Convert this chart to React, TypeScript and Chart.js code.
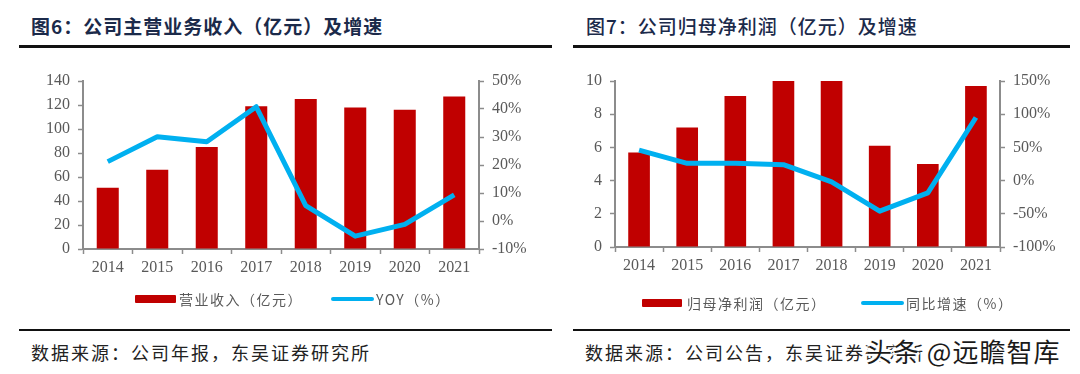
import React, { useEffect, useRef } from "react";
import { Chart, registerables } from "chart.js";

Chart.register(...registerables);

// ---------- data ----------
const years = ["2014", "2015", "2016", "2017", "2018", "2019", "2020", "2021"];
const revenue = [51, 66, 85, 119, 125, 118, 116, 127];
const revenueYoy = [21.2, 30.1, 28.3, 40.8, 5.5, -5.4, -1.2, 9.3];
const netProfit = [5.7, 7.2, 9.1, 11.3, 11.1, 6.1, 5.0, 9.7];
const netProfitYoy = [46, 26, 26, 24, -2, -46, -18.5, 95];

const title1 = "图6：公司主营业务收入（亿元）及增速";
const title2 = "图7：公司归母净利润（亿元）及增速";
const legendBar1 = "营业收入（亿元）";
const legendLine1 = "YOY（%）";
const legendBar2 = "归母净利润（亿元）";
const legendLine2 = "同比增速（%）";
const source1 = "数据来源：公司年报，东吴证券研究所";
const source2 = "数据来源：公司公告，东吴证券研究所";
const watermark = "头条 @远瞻智库";

// ---------- styles ----------
const SERIF = '"Liberation Serif", "Times New Roman", serif';
const CJK = '"Noto Sans CJK SC", "Noto Sans", sans-serif';
const AXIS = "#8c8c8c";
const TICK_TEXT = "#595959";
const BAR = "#C00000";
const LINE = "#00B0F0";

type Spec = {
  values: number[];
  yoy: number[];
  yMax: number;
  yStep: number;
  y1Min: number;
  y1Max: number;
  y1Step: number;
  leftW: number;
  rightW: number;
  topPad: number;
  xH: number;
  barPct: number;
};

function ComboChart(props: { left: number; top: number; width: number; height: number; spec: Spec }) {
  const { left, top, width, height, spec } = props;
  const ref = useRef<HTMLCanvasElement>(null);
  useEffect(() => {
    const tickFont = { family: SERIF, size: 16 };
    const gridCfg = {
      drawOnChartArea: false,
      drawTicks: true,
      tickLength: 5,
      tickColor: AXIS,
      tickWidth: 1.5,
    };
    const chart = new Chart(ref.current as HTMLCanvasElement, {
      type: "bar",
      data: {
        labels: years,
        datasets: [
          {
            type: "line",
            data: spec.yoy,
            yAxisID: "y1",
            borderColor: LINE,
            backgroundColor: LINE,
            borderWidth: 5,
            pointRadius: 0,
            tension: 0,
            borderJoinStyle: "round",
            order: 0,
            clip: 10,
          } as any,
          {
            type: "bar",
            data: spec.values,
            yAxisID: "y",
            backgroundColor: BAR,
            barPercentage: spec.barPct,
            categoryPercentage: 1,
            order: 1,
            clip: 0,
          } as any,
        ],
      },
      options: {
        responsive: false,
        maintainAspectRatio: false,
        animation: false,
        layout: { padding: { top: spec.topPad, left: 0, right: 0, bottom: 0 } },
        plugins: { legend: { display: false }, tooltip: { enabled: false } },
        scales: {
          x: {
            grid: { ...gridCfg, offset: true },
            border: { display: true, color: AXIS, width: 2 },
            ticks: { color: TICK_TEXT, font: tickFont, padding: 4, maxRotation: 0, autoSkip: false },
            afterFit: (s: any) => {
              s.height = spec.xH;
            },
          },
          y: {
            position: "left",
            min: 0,
            max: spec.yMax,
            grid: gridCfg,
            border: { display: true, color: AXIS, width: 2 },
            ticks: { stepSize: spec.yStep, color: TICK_TEXT, font: tickFont, padding: 8 },
            afterFit: (s: any) => {
              s.width = spec.leftW;
            },
          },
          y1: {
            position: "right",
            min: spec.y1Min,
            max: spec.y1Max,
            grid: gridCfg,
            border: { display: true, color: AXIS, width: 2 },
            ticks: {
              stepSize: spec.y1Step,
              color: TICK_TEXT,
              font: tickFont,
              padding: 8,
              callback: (v: any) => `${Math.round(Number(v))}%`,
            },
            afterFit: (s: any) => {
              s.width = spec.rightW;
            },
          },
        },
      } as any,
    });
    return () => chart.destroy();
  }, []);
  return (
    <canvas
      ref={ref}
      width={width}
      height={height}
      style={{ position: "absolute", left, top, width, height }}
    />
  );
}

function Text(props: {
  x: number;
  cy: number;
  size: number;
  color: string;
  text: string;
  weight?: number | string;
  spacing?: number;
  family?: string;
  extra?: React.CSSProperties;
}) {
  const lh = Math.round(props.size * 1.4);
  return (
    <div
      style={{
        position: "absolute",
        left: props.x,
        top: props.cy - lh / 2,
        height: lh,
        lineHeight: `${lh}px`,
        fontSize: props.size,
        fontFamily: props.family || CJK,
        fontWeight: props.weight || 400,
        color: props.color,
        letterSpacing: props.spacing || 0,
        whiteSpace: "nowrap",
        ...(props.extra || {}),
      }}
    >
      {props.text}
    </div>
  );
}

function Rule(props: { x1: number; x2: number; y: number; h: number }) {
  return (
    <div
      style={{
        position: "absolute",
        left: props.x1,
        top: props.y,
        width: props.x2 - props.x1,
        height: props.h,
        background: "#111",
      }}
    />
  );
}

function Box(props: { x: number; cy: number; w: number; h: number; color: string; r?: number }) {
  return (
    <div
      style={{
        position: "absolute",
        left: props.x,
        top: props.cy - props.h / 2,
        width: props.w,
        height: props.h,
        background: props.color,
        borderRadius: props.r || 0,
      }}
    />
  );
}

const spec1: Spec = {
  values: revenue,
  yoy: revenueYoy,
  yMax: 140,
  yStep: 20,
  y1Min: -10,
  y1Max: 50,
  y1Step: 10,
  leftW: 83,
  rightW: 61,
  topPad: 21,
  xH: 41,
  barPct: 0.445,
};

const spec2: Spec = {
  values: netProfit,
  yoy: netProfitYoy,
  yMax: 10,
  yStep: 2,
  y1Min: -100,
  y1Max: 150,
  y1Step: 50,
  leftW: 75,
  rightW: 80,
  topPad: 21,
  xH: 43,
  barPct: 0.45,
};

export default function App() {
  const legendStyle = { size: 14, color: TICK_TEXT, spacing: 1.5 };
  return (
    <div
      style={{
        position: "fixed",
        left: 0,
        top: 0,
        width: 1080,
        height: 374,
        background: "#fff",
        overflow: "hidden",
      }}
    >
      {/* titles */}
      <Text x={31} cy={25} size={19} color="#1B2A4A" text={title1} weight={700} spacing={1} />
      <Text x={586} cy={25} size={19} color="#1B2A4A" text={title2} weight={500} spacing={1} />
      <Rule x1={19} x2={552} y={45} h={3} />
      <Rule x1={573} x2={1070} y={45} h={3} />

      {/* charts */}
      <ComboChart left={0} top={60} width={540} height={230} spec={spec1} />
      <ComboChart left={540} top={60} width={540} height={230} spec={spec2} />

      {/* legends */}
      <Box x={135} cy={298.5} w={41} h={8} color={BAR} r={1} />
      <Text x={179} cy={298.5} text={legendBar1} {...legendStyle} />
      <Box x={331} cy={298.5} w={43} h={4} color={LINE} r={2} />
      <Text x={376} cy={298.5} text={legendLine1} {...legendStyle} />

      <Box x={642} cy={303} w={40} h={8} color={BAR} r={1} />
      <Text x={687} cy={303} text={legendBar2} {...legendStyle} />
      <Box x={861} cy={303} w={43} h={4} color={LINE} r={2} />
      <Text x={906} cy={303} text={legendLine2} {...legendStyle} />

      {/* bottom rules + sources */}
      <Rule x1={19} x2={552} y={329} h={2} />
      <Rule x1={573} x2={1070} y={329} h={2} />
      <Text x={31} cy={352} size={18} color="#222" text={source1} spacing={2} />
      <Text x={585} cy={352} size={18} color="#222" text={source2} spacing={2} />
      <Text
        x={866}
        cy={351}
        size={26}
        color="#1a1a1a"
        text={watermark}
        spacing={1}
        extra={{
          textShadow:
            "0 0 2px #fff, 0 0 4px #fff, 2px 2px 0 #fff, -2px -2px 0 #fff, 2px -2px 0 #fff, -2px 2px 0 #fff",
        }}
      />
    </div>
  );
}
